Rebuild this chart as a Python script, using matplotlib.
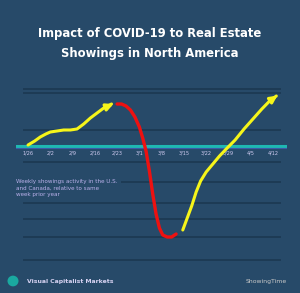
import matplotlib.pyplot as plt
import matplotlib.patches as patches

# Week labels along the zero line
weeks = ['1/26', '2/2', '2/9', '2/16', '2/23', '3/1', '3/8', '3/15', '3/22', '3/29', '4/5', '4/12']

# Curve (x = week index, y = relative change)
rise_x = [0.0, 0.3, 0.55, 0.8, 1.0, 1.3, 1.6, 1.9, 2.2, 2.5, 2.8, 3.1, 3.4, 3.75]
rise_y = [1, 5, 9, 12, 14, 15, 16, 16, 17, 22, 28, 33, 38, 42]

drop_x = [4.0, 4.2, 4.4, 4.6, 4.8, 5.0, 5.15, 5.3, 5.45, 5.6, 5.75, 5.9, 6.05, 6.25, 6.45, 6.65]
drop_y = [42, 42, 40, 36, 29, 19, 8, -5, -25, -48, -68, -82, -89, -91, -91, -88]

recover_x = [6.95, 7.15, 7.35, 7.55, 7.75, 8.0, 8.3, 8.6, 8.9, 9.3, 9.7, 10.1, 10.5, 10.85, 11.15]
recover_y = [-84, -72, -60, -46, -35, -26, -18, -10, -3, 6, 17, 27, 37, 45, 50]

grid_y = [57, 53, 16, -16, -36, -57, -73, -91, -114]

bg = '#274a69'
grid_c = '#1d3b55'
yellow = '#f6f51a'
red = '#ee1111'

fig = plt.figure(figsize=(3.0, 2.93), dpi=100)
fig.patch.set_facecolor(bg)

# axes spans pixel x 16..287, y 80..262
W, H = 300, 293
ax = fig.add_axes([16 / W, 1 - 262 / H, (287 - 16) / W, (262 - 80) / H])
ax.set_facecolor(bg)
ax.set_xlim(-0.54, 11.63)
ax.set_ylim(-116, 66)
ax.axis('off')

for gy in grid_y:
    ax.plot([-0.18, 11.3], [gy, gy], color=grid_c, lw=1.4, zorder=1)

# zero line
ax.plot([-0.54, 11.63], [0, 0], color='#1fb8b2', lw=2.2, zorder=2)
ax.plot([-0.54, 11.63], [-2.2, -2.2], color='#3b5aa8', lw=0.8, zorder=2)

for i, w in enumerate(weeks):
    ax.text(i, -7, w, ha='center', va='center', fontsize=3.6, color='#cfcaf0', zorder=3)

# note box covering part of the grid
ax.text(-0.54, -42, 'Weekly showings activity in the U.S.\nand Canada, relative to same\nweek prior year',
        ha='left', va='center', fontsize=4.1, color='#b9b0ea', linespacing=1.45, zorder=4,
        bbox=dict(facecolor=bg, edgecolor='none', pad=2.5))

ax.plot(rise_x, rise_y, color=yellow, lw=2.2, solid_capstyle='round', zorder=5)
ax.annotate('', xy=(rise_x[-1] + 0.2, rise_y[-1] + 1), xytext=(rise_x[-2], rise_y[-2]),
            arrowprops=dict(arrowstyle='-|>', color=yellow, lw=2.2, mutation_scale=10), zorder=5)
ax.plot(drop_x, drop_y, color=red, lw=2.4, solid_capstyle='round', zorder=5)
ax.plot(recover_x, recover_y, color=yellow, lw=2.2, solid_capstyle='round', zorder=5)
ax.annotate('', xy=(recover_x[-1] + 0.15, recover_y[-1] + 2), xytext=(recover_x[-2], recover_y[-2]),
            arrowprops=dict(arrowstyle='-|>', color=yellow, lw=2.2, mutation_scale=10), zorder=5)

# title
fig.text(0.5, 1 - 44 / H, 'Impact of COVID-19 to Real Estate\nShowings in North America',
         ha='center', va='center', fontsize=9.3, color='white', fontweight='bold',
         fontstretch='condensed', family='DejaVu Sans', linespacing=1.7)

# footer
fig.patches.append(patches.Circle((13 / W, 1 - 281 / H), 5.5 / W, transform=fig.transFigure,
                                  facecolor='#1aa9a0', edgecolor='none'))
fig.text(27 / W, 1 - 281 / H, 'Visual Capitalist Markets', ha='left', va='center',
         fontsize=4.4, color='#d6d2f2', fontweight='bold')
fig.text(287 / W, 1 - 281 / H, 'ShowingTime', ha='right', va='center',
         fontsize=4.4, color='#c9c9c9')

plt.savefig('out.png', dpi=100, facecolor=fig.get_facecolor())
plt.close()
